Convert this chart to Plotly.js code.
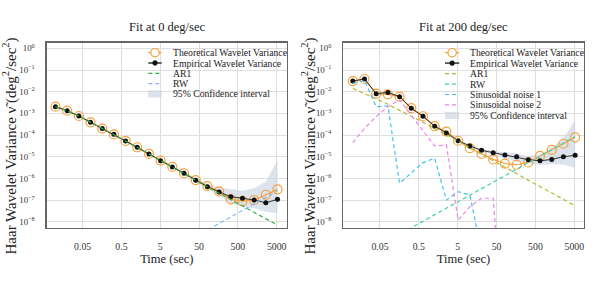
<!DOCTYPE html>
<html><head><meta charset="utf-8">
<script src="https://cdn.plot.ly/plotly-3.0.1.min.js"></script>
<style>body{margin:0;padding:0;background:#fff}#plot{width:594px;height:281px}</style>
</head><body><div id="plot"></div>
<script>
// Scales (seconds)
const scales = [0.01, 0.02, 0.04, 0.08, 0.16, 0.32, 0.64, 1.28, 2.56, 5.12, 10.24, 20.48, 40.96, 81.92, 163.84, 327.68, 655.36, 1310.72, 2621.44, 5242.88];

// ---- Fit at 0 deg/sec ----
const empL = [2.04e-3, 1.33e-3, 7.6e-4, 3.9e-4, 2.04e-4, 1.10e-4, 5.4e-5, 2.75e-5, 1.35e-5, 6.6e-6, 3.4e-6, 1.74e-6, 8.3e-7, 4.2e-7, 2.4e-7, 1.45e-7, 1.23e-7, 1.02e-7, 7.6e-8, 1.1e-7];
const theoL = [2.04e-3, 1.33e-3, 7.6e-4, 3.9e-4, 2.0e-4, 1.08e-4, 5.4e-5, 2.75e-5, 1.36e-5, 6.7e-6, 3.4e-6, 1.72e-6, 8.5e-7, 4.5e-7, 2.57e-7, 1.1e-7, 9.1e-8, 1.02e-7, 1.78e-7, 3.16e-7];
const ar1L = [2.04e-3, 1.33e-3, 7.6e-4, 3.9e-4, 2.04e-4, 1.10e-4, 5.4e-5, 2.75e-5, 1.35e-5, 6.6e-6, 3.4e-6, 1.7e-6, 8.3e-7, 4.1e-7, 2.1e-7, 1.05e-7, 5.2e-8, 2.7e-8, 1.38e-8, 7.1e-9];
const rwL = [5.1e-13, 1.03e-12, 2.05e-12, 4.1e-12, 8.2e-12, 1.65e-11, 3.3e-11, 6.6e-11, 1.3e-10, 2.6e-10, 5.3e-10, 1.05e-9, 2.1e-9, 4.2e-9, 8.5e-9, 1.7e-8, 3.4e-8, 6.8e-8, 1.35e-7, 2.7e-7];
const ciLowL = [1.9e-3, 1.23e-3, 7.1e-4, 3.6e-4, 1.9e-4, 1.02e-4, 5.0e-5, 2.5e-5, 1.23e-5, 5.9e-6, 2.95e-6, 1.45e-6, 6.6e-7, 3.3e-7, 1.74e-7, 7.2e-8, 5.0e-8, 4.3e-8, 2.95e-8, 2.5e-8];
const ciUpL = [2.19e-3, 1.45e-3, 8.1e-4, 4.2e-4, 2.19e-4, 1.17e-4, 5.75e-5, 3.0e-5, 1.48e-5, 7.4e-6, 3.9e-6, 2.04e-6, 1.05e-6, 5.6e-7, 3.9e-7, 3.16e-7, 2.75e-7, 3.55e-7, 7.1e-7, 7.1e-6];

// ---- Fit at 200 deg/sec ----
const empR = [3.1e-2, 3.85e-2, 8.1e-3, 9.3e-3, 5.9e-3, 1.74e-3, 7.4e-4, 2.57e-4, 1.26e-4, 5.5e-5, 3.16e-5, 2.0e-5, 1.55e-5, 1.2e-5, 1.0e-5, 7.4e-6, 6.5e-6, 7.6e-6, 1.0e-5, 1.17e-5];
const theoR = [3.1e-2, 3.85e-2, 8.1e-3, 7.6e-3, 5.9e-3, 1.74e-3, 7.4e-4, 2.57e-4, 1.45e-4, 5.5e-5, 2.5e-5, 1.35e-5, 7.6e-6, 4.9e-6, 4.3e-6, 5.5e-6, 1.1e-5, 2.1e-5, 4.0e-5, 7.9e-5];
const ar1R = [1.41e-2, 8.3e-3, 4.7e-3, 2.63e-3, 1.41e-3, 7.6e-4, 4.0e-4, 2.04e-4, 1.05e-4, 5.2e-5, 2.5e-5, 1.29e-5, 6.6e-6, 3.3e-6, 1.66e-6, 8.3e-7, 4.2e-7, 2.1e-7, 1.07e-7, 5.5e-8];
const rwR = [1.7e-10, 3.4e-10, 6.8e-10, 1.35e-9, 2.7e-9, 5.4e-9, 1.07e-8, 2.14e-8, 4.3e-8, 8.5e-8, 1.7e-7, 3.4e-7, 6.8e-7, 1.35e-6, 2.7e-6, 5.4e-6, 1.07e-5, 2.14e-5, 4.3e-5, 8.5e-5];
const sin1R = [2.4e-2, 3.3e-2, 2.04e-3, 2.19e-3, 6.0e-7, 1.86e-6, 5.4e-6, 8.5e-6, 1.02e-7, 2.45e-7, 1.74e-7, 4.4e-10, 3e-12, 1e-12, 5e-13, 2e-13, 1e-13, 5e-14, 2e-14, 1e-14];
const sin2R = [4.5e-5, 2.04e-4, 7.1e-4, 2.04e-3, 4.2e-3, 8.5e-4, 1.74e-4, 3.16e-5, 3.5e-5, 1.23e-8, 5.0e-8, 1.23e-7, 1.23e-7, 1e-14, 1e-14, 1e-14, 1e-14, 1e-14, 1e-14, 1e-14];
const ciLowR = [2.9e-2, 3.55e-2, 7.6e-3, 8.7e-3, 5.5e-3, 1.62e-3, 6.9e-4, 2.4e-4, 1.17e-4, 5.0e-5, 2.8e-5, 1.74e-5, 1.29e-5, 8.9e-6, 5.9e-6, 5.0e-6, 4.2e-6, 4.5e-6, 4.4e-6, 3.16e-6];
const ciUpR = [3.3e-2, 4.2e-2, 8.7e-3, 1.0e-2, 6.3e-3, 1.86e-3, 7.9e-4, 2.75e-4, 1.35e-4, 6.0e-5, 3.55e-5, 2.3e-5, 1.86e-5, 1.58e-5, 1.45e-5, 1.05e-5, 1.32e-5, 2.7e-5, 7.1e-5, 5.0e-4];

// Tick labels
const xTickVals = [0.05, 0.5, 5, 50, 500, 5000];
const xTickText = ['0.05', '0.5', '5', '50', '500', '5000'];
const yTickVals = [1, 1e-1, 1e-2, 1e-3, 1e-4, 1e-5, 1e-6, 1e-7, 1e-8];
const yTickText = ['10<sup>0</sup>', '10<sup>−1</sup>', '10<sup>−2</sup>', '10<sup>−3</sup>', '10<sup>−4</sup>', '10<sup>−5</sup>', '10<sup>−6</sup>', '10<sup>−7</sup>', '10<sup>−8</sup>'];

const titles = ['Fit at 0 deg/sec', 'Fit at 200 deg/sec'];
const yTitle = 'Haar Wavelet Variance ν̃ (deg<sup>2</sup>/sec<sup>2</sup>)';
const xTitle = 'Time (sec)';
const legendL = ['Theoretical Wavelet Variance', 'Empirical Wavelet Variance', 'AR1', 'RW', '95% Confidence interval'];
const legendR = ['Theoretical Wavelet Variance', 'Empirical Wavelet Variance', 'AR1', 'RW', 'Sinusoidal noise 1', 'Sinusoidal noise 2', '95% Confidence interval'];

const C = {
  orange: '#f7a03a', black: '#111111', eline: '#333333',
  ar1L: '#33b04a', rwL: '#86b4f5',
  ar1R: '#b8b830', rwR: '#3dd49a', sin1: '#3fc3f2', sin2: '#ea86ea',
  ci: 'rgba(205,215,230,0.7)'
};
const FONT = "'Liberation Serif', 'Times New Roman', serif";
const W = 594, H = 281;

function band(lo, up, xa, ya) {
  return [
    {x: scales, y: lo, xaxis: xa, yaxis: ya, mode: 'lines', line: {width: 0, color: C.ci}, hoverinfo: 'skip'},
    {x: scales, y: up, xaxis: xa, yaxis: ya, mode: 'lines', line: {width: 0, color: C.ci}, fill: 'tonexty', fillcolor: C.ci, hoverinfo: 'skip'}
  ];
}
function theo(v, xa, ya) {
  return {x: scales, y: v, xaxis: xa, yaxis: ya, mode: 'lines+markers', name: 'Theoretical',
    line: {color: C.orange, width: 1.2}, marker: {symbol: 'circle-open', size: 9, color: C.orange, line: {width: 1.2, color: C.orange}}};
}
function emp(v, xa, ya) {
  return {x: scales, y: v, xaxis: xa, yaxis: ya, mode: 'lines+markers', name: 'Empirical',
    line: {color: C.eline, width: 1}, marker: {symbol: 'circle', size: 5, color: C.black}};
}
function comp(v, color, xa, ya) {
  return {x: scales, y: v, xaxis: xa, yaxis: ya, mode: 'lines', line: {color: color, width: 1.2, dash: '4px,3px'}};
}

const data = [
  ...band(ciLowL, ciUpL, 'x', 'y'),
  theo(theoL, 'x', 'y'), emp(empL, 'x', 'y'),
  comp(ar1L, C.ar1L, 'x', 'y'), comp(rwL, C.rwL, 'x', 'y'),
  ...band(ciLowR, ciUpR, 'x2', 'y2'),
  theo(theoR, 'x2', 'y2'), emp(empR, 'x2', 'y2'),
  comp(ar1R, C.ar1R, 'x2', 'y2'), comp(rwR, C.rwR, 'x2', 'y2'),
  comp(sin1R, C.sin1, 'x2', 'y2'), comp(sin2R, C.sin2, 'x2', 'y2')
];

function xax(dom, range, anchor) {
  return {domain: dom, anchor: anchor, type: 'log', range: range, tickmode: 'array', tickvals: xTickVals, ticktext: xTickText,
    showgrid: true, gridcolor: '#dedede', gridwidth: 1, showline: true, mirror: true, linecolor: '#666', linewidth: 1.3,
    ticks: '', ticklabelstandoff: 9, tickfont: {family: FONT, size: 9.8, color: '#333'},
    title: {text: xTitle, font: {family: FONT, size: 12.5, color: '#222'}, standoff: 3}};
}
function yax(anchor) {
  return {domain: [(H - 227.7) / H, (H - 42.7) / H], anchor: anchor, type: 'log', range: [-8.267, 0.258], tickmode: 'array',
    tickvals: yTickVals, ticktext: yTickText, showgrid: true, gridcolor: '#dedede', gridwidth: 1, showline: true, mirror: true,
    linecolor: '#666', linewidth: 1.3, ticks: '', ticklabelstandoff: 9, tickfont: {family: FONT, size: 8.8, color: '#333'}};
}

const annotations = [];
const shapes = [];
function px(x) { return x / W; }
function py(y) { return 1 - y / H; }
annotations.push({text: titles[0], x: px(166.8), y: py(26.7), xref: 'paper', yref: 'paper', showarrow: false, xanchor: 'center', yanchor: 'middle', font: {family: FONT, size: 12.5, color: '#222'}});
annotations.push({text: titles[1], x: px(463.5), y: py(26.7), xref: 'paper', yref: 'paper', showarrow: false, xanchor: 'center', yanchor: 'middle', font: {family: FONT, size: 12.5, color: '#222'}});
[10, 309].forEach(xp => {
  annotations.push({text: yTitle, textangle: -90, x: px(xp), y: py(146.5), xref: 'paper', yref: 'paper', showarrow: false,
    xanchor: 'center', yanchor: 'middle', font: {family: FONT, size: 15, color: '#222'}});
});

function legend(labels, colors, x0, x1, xt, y0, dy) {
  labels.forEach((lab, i) => {
    const y = y0 + i * dy;
    const xc = (x0 + x1) / 2;
    annotations.push({text: lab, x: px(xt), y: py(y), xref: 'paper', yref: 'paper', showarrow: false, xanchor: 'left', yanchor: 'middle',
      font: {family: FONT, size: 9.7, color: '#222'}});
    const kind = colors[i];
    if (kind === 'theo') {
      shapes.push({type: 'line', xref: 'paper', yref: 'paper', x0: px(x0), x1: px(x1), y0: py(y), y1: py(y), line: {color: C.orange, width: 1.2}});
      shapes.push({type: 'circle', xref: 'paper', yref: 'paper', xsizemode: 'pixel', ysizemode: 'pixel', xanchor: px(xc), yanchor: py(y),
        x0: -4.2, x1: 4.2, y0: -4.2, y1: 4.2, line: {color: C.orange, width: 1.2}, fillcolor: 'white'});
    } else if (kind === 'emp') {
      shapes.push({type: 'line', xref: 'paper', yref: 'paper', x0: px(x0), x1: px(x1), y0: py(y), y1: py(y), line: {color: '#555', width: 1.8}});
      shapes.push({type: 'circle', xref: 'paper', yref: 'paper', xsizemode: 'pixel', ysizemode: 'pixel', xanchor: px(xc), yanchor: py(y),
        x0: -2.4, x1: 2.4, y0: -2.4, y1: 2.4, line: {color: C.black, width: 0.5}, fillcolor: C.black});
    } else if (kind === 'ci') {
      shapes.push({type: 'rect', xref: 'paper', yref: 'paper', x0: px(x0), x1: px(x1), y0: py(y + 3.5), y1: py(y - 3.5), line: {width: 0}, fillcolor: C.ci});
    } else {
      shapes.push({type: 'line', xref: 'paper', yref: 'paper', x0: px(x0), x1: px(x1), y0: py(y), y1: py(y), line: {color: kind, width: 1.2, dash: '4px,3px'}});
    }
  });
}
legend(legendL, ['theo', 'emp', C.ar1L, C.rwL, 'ci'], 148.3, 161.7, 171.2, 52.7, 10.3);
legend(legendR, ['theo', 'emp', C.ar1R, C.rwR, C.sin1, C.sin2, 'ci'], 445, 459.3, 467.8, 52.7, 10.45);

const layout = {
  width: W, height: H, margin: {l: 0, r: 0, t: 0, b: 0}, paper_bgcolor: 'white', plot_bgcolor: 'white', showlegend: false,
  font: {family: FONT},
  xaxis: xax([46.7 / W, 287 / W], [-2.226, 3.964], 'y'),
  yaxis: yax('x'),
  xaxis2: xax([343.3 / W, 583.7 / W], [-2.244, 3.94], 'y2'),
  yaxis2: yax('x2'),
  annotations: annotations, shapes: shapes
};
Plotly.newPlot('plot', data, layout, {displayModeBar: false, staticPlot: true});
</script></body></html>
